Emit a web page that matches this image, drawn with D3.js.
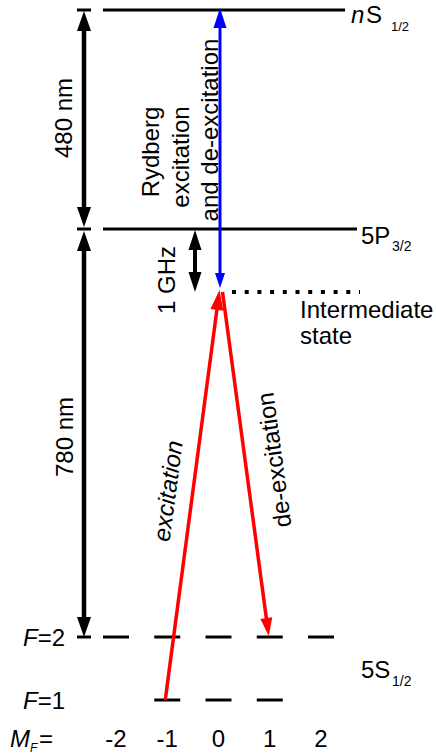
<!DOCTYPE html>
<html><head><meta charset="utf-8">
<script src="https://cdn.jsdelivr.net/npm/d3@7"></script>
<style>html,body{margin:0;padding:0;background:#fff;} svg{display:block;font-family:"Liberation Sans",Arial,Helvetica,sans-serif;}</style>
</head><body>
<svg id="c" width="436" height="756"></svg>
<script>
// ---- data (schematic) ----
const levelNames  = ["F=1", "F=2", "Intermediate", "5P3/2", "nS1/2"];
const levelEnergy = [0, 6.3, 40.9, 47.1, 69.0];   // schematic energy units
const mF2 = [-2, -1, 0, 1, 2];                    // F=2 sublevels
const mF1 = [-1, 0, 1];                           // F=1 sublevels
const mFLabels = ["-2", "-1", "0", "1", "2"];
const intervalLabels = ["480 nm", "780 nm", "1 GHz"];
const transitions = [
  {name: "excitation", from: [-1, "F=1"], to: [0, "Intermediate"]},
  {name: "de-excitation", from: [0, "Intermediate"], to: [1, "F=2"]}
];

// ---- scales ----
const E = {}; levelNames.forEach((n, i) => E[n] = levelEnergy[i]);
const y = d3.scaleLinear().domain([0, 69]).range([700, 10]);
const x = d3.scaleLinear().domain([-2, 2]).range([116, 321]);
const Y = n => y(E[n]);

const svg = d3.select("#c");
const g = svg.append("g");

function head(px, py, ux, uy, L, W, color) {
  const nx = -uy, ny = ux;
  const bx = px - ux * L, by = py - uy * L;
  g.append("path")
    .attr("d", `M${px},${py}L${bx + nx * W / 2},${by + ny * W / 2}L${bx - nx * W / 2},${by - ny * W / 2}Z`)
    .attr("fill", color);
}
function arrow(x1, y1, x2, y2, o) {
  const dx = x2 - x1, dy = y2 - y1, len = Math.hypot(dx, dy);
  const ux = dx / len, uy = dy / len;
  let sx = x1, sy = y1, ex = x2, ey = y2;
  if (o.start) { sx += ux * o.sL * 0.8; sy += uy * o.sL * 0.8; }
  if (o.end) { ex -= ux * o.L * 0.8; ey -= uy * o.L * 0.8; }
  g.append("line").attr("x1", sx).attr("y1", sy).attr("x2", ex).attr("y2", ey)
    .attr("stroke", o.color).attr("stroke-width", o.w);
  if (o.end) head(x2, y2, ux, uy, o.L, o.W, o.color);
  if (o.start) head(x1, y1, -ux, -uy, o.sL, o.sW, o.color);
}
function hline(x1, x2, yy, w, color, dash) {
  const l = g.append("line").attr("x1", x1).attr("x2", x2).attr("y1", yy).attr("y2", yy)
    .attr("stroke", color || "#000").attr("stroke-width", w);
  if (dash) l.attr("stroke-dasharray", dash);
  return l;
}

// ---- level lines ----
hline(103, 345, Y("nS1/2"), 3);
hline(103, 357, Y("5P3/2"), 3);
hline(232, 360, Y("Intermediate") + 1, 4, "#000", "4,8.7");

// hyperfine sublevels
g.selectAll(".f2").data(mF2).enter().append("line")
  .attr("x1", d => x(d) - 13).attr("x2", d => x(d) + 13)
  .attr("y1", Y("F=2")).attr("y2", Y("F=2")).attr("stroke", "#000").attr("stroke-width", 3);
g.selectAll(".f1").data(mF1).enter().append("line")
  .attr("x1", d => x(d) - 13).attr("x2", d => x(d) + 13)
  .attr("y1", Y("F=1")).attr("y2", Y("F=1")).attr("stroke", "#000").attr("stroke-width", 3);

// ---- interval arrows (left) ----
const ax = 84;
[Y("nS1/2"), Y("5P3/2"), Y("F=2")].forEach(v => hline(77, 91, v, 3));
arrow(ax, Y("nS1/2") + 1, ax, Y("5P3/2") - 2, {color: "#000", w: 4.5, L: 20, W: 14, start: true, sL: 20, sW: 14, end: true});
arrow(ax, Y("5P3/2") + 2, ax, Y("F=2"), {color: "#000", w: 4.5, L: 20, W: 14, start: true, sL: 20, sW: 14, end: true});
arrow(195, Y("5P3/2") + 1, 195, Y("Intermediate") + 1, {color: "#000", w: 4, L: 20, W: 13, start: true, sL: 20, sW: 13, end: true});

// ---- Rydberg (blue) ----
arrow(220, Y("Intermediate") - 3, 220, Y("nS1/2") - 2, {color: "#0000ff", w: 3, L: 20, W: 13, end: true, start: true, sL: 15, sW: 10});

// ---- red transitions ----
arrow(x(transitions[0].from[0]) - 2, Y(transitions[0].from[1]), x(transitions[0].to[0]) + 1, Y(transitions[0].to[1]) - 1,
  {color: "#ff0000", w: 3.5, L: 20, W: 13, end: true});
arrow(x(transitions[1].from[0]) + 4, Y(transitions[1].from[1]) + 1, x(transitions[1].to[0]) - 1, Y(transitions[1].to[1]) - 1,
  {color: "#ff0000", w: 3.5, L: 18, W: 12, end: true});

// ---- text ----
const FS = 24;
function txt(s, tx, ty, opts = {}) {
  const t = g.append("text").attr("x", tx).attr("y", ty).attr("font-size", opts.fs || FS)
    .attr("fill", "#000").text(s);
  if (opts.anchor) t.attr("text-anchor", opts.anchor);
  if (opts.italic) t.attr("font-style", "italic");
  if (opts.rot !== undefined) t.attr("transform", `rotate(${opts.rot},${tx},${ty})`);
  if (opts.dy) t.attr("dy", opts.dy);
  return t;
}
// level labels
txt("n", 351, 23, {italic: true});
txt("S", 366, 23);
txt("1/2", 391, 31, {fs: 13});
txt("5P", 361, 244);
txt("3/2", 392, 251, {fs: 14});
txt("Intermediate", 300, 318);
txt("state", 300, 344);
txt("5S", 361, 678);
txt("1/2", 392, 686, {fs: 14});

// interval labels
txt(intervalLabels[0], 72, 118, {rot: -90, anchor: "middle"});
txt(intervalLabels[1], 73, 437, {rot: -90, anchor: "middle"});
txt(intervalLabels[2], 175, 280, {rot: -90, anchor: "middle"});

// Rydberg text
txt("Rydberg", 159, 152, {rot: -90, anchor: "middle"});
txt("excitation", 189, 157, {rot: -90, anchor: "middle"});
txt("and de-excitation", 218, 130, {rot: -90, anchor: "middle"});

// transition labels
txt(transitions[0].name, 169, 491, {rot: -82.5, anchor: "middle", italic: true, dy: "0.3em"});
txt(transitions[1].name, 274, 460, {rot: -97.8, anchor: "middle", dy: "0.35em"});

// F labels
const f2 = g.append("text").attr("x", 23).attr("y", 646).attr("font-size", FS);
f2.append("tspan").attr("font-style", "italic").text("F");
f2.append("tspan").text("=2");
const f1 = g.append("text").attr("x", 23).attr("y", 709).attr("font-size", FS);
f1.append("tspan").attr("font-style", "italic").text("F");
f1.append("tspan").text("=1");
txt("M", 10, 747, {italic: true});
txt("F", 30, 752, {italic: true, fs: 12});
txt("=", 39, 747);
g.selectAll(".mfl").data(mF2).enter().append("text")
  .attr("x", d => x(d)).attr("y", 747).attr("text-anchor", "middle")
  .attr("font-size", FS).text((d, i) => mFLabels[i]);
</script>
</body></html>
